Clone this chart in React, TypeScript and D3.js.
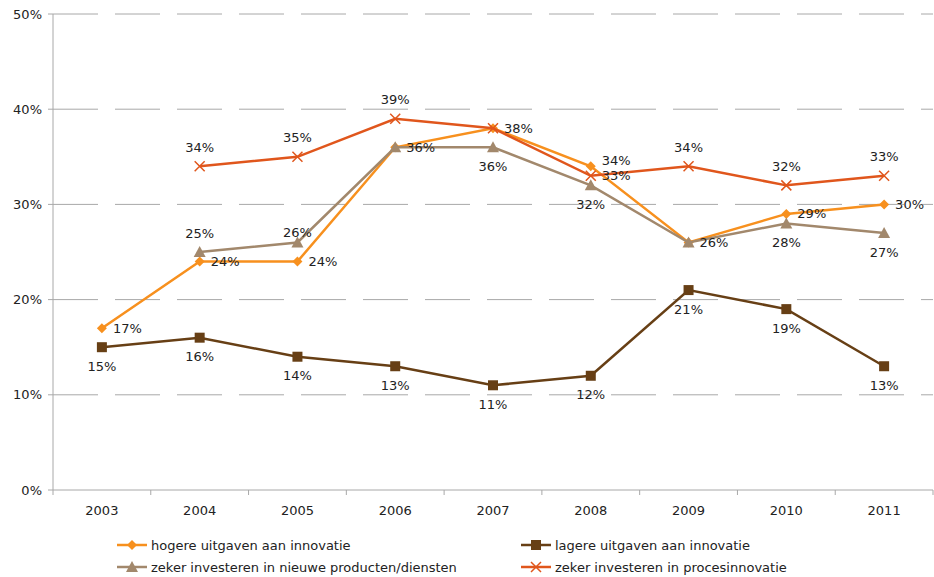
import React from "react";
import * as d3 from "d3";

const years = ["2003", "2004", "2005", "2006", "2007", "2008", "2009", "2010", "2011"];
const hogere: (number | null)[] = [17, 24, 24, 36, 38, 34, 26, 29, 30];
const lagere: (number | null)[] = [15, 16, 14, 13, 11, 12, 21, 19, 13];
const nieuwe: (number | null)[] = [null, 25, 26, 36, 36, 32, 26, 28, 27];
const proces: (number | null)[] = [null, 34, 35, 39, 38, 33, 34, 32, 33];
const yTicks = [0, 10, 20, 30, 40, 50];

// label placement (style), per point: r = right, a = above, s = slightly above, b = below, u = right & raised
const hogereLbl = ["r", "r", "r", "r", "r", "u", "r", "r", "r"];
const lagereLbl = ["b", "b", "b", "b", "b", "b", "b", "b", "b"];
const nieuweLbl = ["", "a", "s", "", "b", "b", "", "b", "b"];
const procesLbl = ["", "a", "a", "a", "", "r", "a", "a", "a"];

const W = 934, H = 577;
const left = 53, right = 933, top = 14, bottom = 490;
const FONT = "Verdana, 'DejaVu Sans', sans-serif";

type Series = { name: string; values: (number | null)[]; color: string; marker: string; lbl: string[] };
const series: Series[] = [
  { name: "hogere uitgaven aan innovatie", values: hogere, color: "#F7901E", marker: "dia", lbl: hogereLbl },
  { name: "lagere uitgaven aan innovatie", values: lagere, color: "#673F15", marker: "sq", lbl: lagereLbl },
  { name: "zeker investeren in nieuwe producten/diensten", values: nieuwe, color: "#A2886C", marker: "tri", lbl: nieuweLbl },
  { name: "zeker investeren in procesinnovatie", values: proces, color: "#E0561C", marker: "x", lbl: procesLbl },
];

function Marker({ type, x, y, color }: { type: string; x: number; y: number; color: string }) {
  if (type === "dia") return <path d={`M${x},${y - 5}L${x + 5},${y}L${x},${y + 5}L${x - 5},${y}Z`} fill={color} />;
  if (type === "sq") return <rect x={x - 5} y={y - 5} width={10} height={10} fill={color} />;
  if (type === "tri") return <path d={`M${x},${y - 6}L${x + 6},${y + 5}L${x - 6},${y + 5}Z`} fill={color} />;
  return <path d={`M${x - 5},${y - 5}L${x + 5},${y + 5}M${x - 5},${y + 5}L${x + 5},${y - 5}`} stroke={color} strokeWidth={1.5} fill="none" />;
}

export default function App() {
  const x = d3.scaleBand<string>().domain(years).range([left, right]);
  const y = d3.scaleLinear().domain([0, 50]).range([bottom, top]);
  const cx = (yr: string) => (x(yr) as number) + x.bandwidth() / 2;
  const line = d3
    .line<{ yr: string; v: number | null }>()
    .defined((d) => d.v !== null)
    .x((d) => cx(d.yr))
    .y((d) => y(d.v as number));

  const legendItems = [
    { s: series[0], lx: 117, ly: 545 },
    { s: series[1], lx: 521, ly: 545 },
    { s: series[2], lx: 117, ly: 567 },
    { s: series[3], lx: 521, ly: 567 },
  ];

  return (
    <svg width={W} height={H} style={{ position: "absolute", left: 0, top: 0, background: "#fff" }} fontFamily={FONT}>
      {yTicks.map((t) => (
        <g key={t}>
          {t > 0 && (
            <line x1={left} x2={right} y1={y(t)} y2={y(t)} stroke="#a8a8a8" strokeWidth={1} strokeDasharray="45,17" />
          )}
          <line x1={left - 5} x2={left} y1={y(t)} y2={y(t)} stroke="#a8a8a8" />
          <text x={42} y={y(t)} dy="0.35em" textAnchor="end" fontSize={13} fill="#222">
            {t}%
          </text>
        </g>
      ))}
      <line x1={left} x2={left} y1={top} y2={bottom} stroke="#a8a8a8" />
      <line x1={left} x2={right} y1={bottom} y2={bottom} stroke="#a8a8a8" />
      {[...years.map((yr) => x(yr) as number), right].map((p, i) => (
        <line key={i} x1={p} x2={p} y1={bottom} y2={bottom + 5} stroke="#a8a8a8" />
      ))}
      {years.map((yr) => (
        <text key={yr} x={cx(yr)} y={510} dy="0.35em" textAnchor="middle" fontSize={13} fill="#222">
          {yr}
        </text>
      ))}
      {series.map((s) => {
        const data = years.map((yr, i) => ({ yr, v: s.values[i] }));
        return (
          <g key={s.name}>
            <path d={line(data) || ""} fill="none" stroke={s.color} strokeWidth={2.5} />
            {data.map((d, i) =>
              d.v === null ? null : <Marker key={i} type={s.marker} x={cx(d.yr)} y={y(d.v)} color={s.color} />
            )}
          </g>
        );
      })}
      {series.map((s) =>
        years.map((yr, i) => {
          const v = s.values[i];
          const p = s.lbl[i];
          if (v === null || !p) return null;
          const px = cx(yr), py = y(v);
          const isRight = p === "r" || p === "u";
          const tx = isRight ? px + 11 : px;
          const ty =
            p === "a" ? py - 19 : p === "s" ? py - 10 : p === "b" ? py + 19 : p === "u" ? py - 6 : py;
          return (
            <text key={s.name + yr} x={tx} y={ty} dy="0.35em" textAnchor={isRight ? "start" : "middle"} fontSize={13} fill="#222">
              {v}%
            </text>
          );
        })
      )}
      {legendItems.map(({ s, lx, ly }) => (
        <g key={s.name}>
          <line x1={lx} x2={lx + 30} y1={ly} y2={ly} stroke={s.color} strokeWidth={2.5} />
          <Marker type={s.marker} x={lx + 15} y={ly} color={s.color} />
          <text x={lx + 34} y={ly} dy="0.35em" fontSize={13} fill="#222">
            {s.name}
          </text>
        </g>
      ))}
    </svg>
  );
}
